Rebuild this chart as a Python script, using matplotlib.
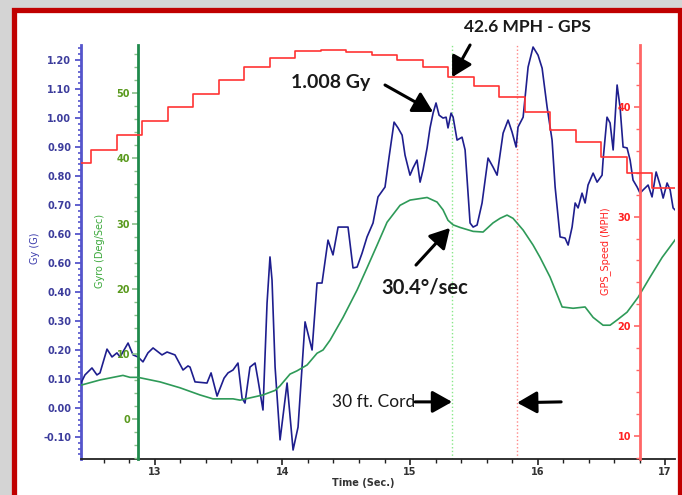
import matplotlib
matplotlib.use('Agg')
import matplotlib.pyplot as plt
from matplotlib.patches import Rectangle
from matplotlib.ticker import MultipleLocator, FixedLocator, FixedFormatter

# Gy (G) - lateral acceleration
gy_time = [12.420, 12.451, 12.506, 12.545, 12.569, 12.624, 12.663, 12.702, 12.726, 12.789,
           12.828, 12.867, 12.906, 12.945, 12.985, 13.055, 13.095, 13.157, 13.220, 13.259,
           13.275, 13.314, 13.408, 13.440, 13.487, 13.542, 13.573, 13.612, 13.651, 13.683,
           13.706, 13.745, 13.785, 13.808, 13.847, 13.879, 13.902, 13.918, 13.942, 13.981,
           14.036, 14.083, 14.122, 14.177, 14.232, 14.271, 14.310, 14.357, 14.396, 14.436,
           14.514, 14.553, 14.585, 14.624, 14.663, 14.710, 14.749, 14.804, 14.836, 14.875,
           14.906, 14.938, 14.961, 15.000, 15.024, 15.055, 15.079, 15.102, 15.134, 15.157,
           15.181, 15.204, 15.228, 15.259, 15.283, 15.298, 15.322, 15.338, 15.369, 15.408,
           15.432, 15.471, 15.495, 15.526, 15.565, 15.612, 15.651, 15.683, 15.730, 15.769,
           15.800, 15.832, 15.847, 15.887, 15.926, 15.965, 16.004, 16.036, 16.075, 16.114,
           16.138, 16.177, 16.216, 16.240, 16.271, 16.295, 16.318, 16.349, 16.373, 16.396,
           16.436, 16.467, 16.506, 16.514, 16.545, 16.569, 16.593, 16.624, 16.647, 16.671,
           16.702, 16.726, 16.749, 16.781, 16.804, 16.828, 16.867, 16.898, 16.930, 16.961,
           16.985, 17.016, 17.040, 17.063, 17.079]
gy_val = [0.086, 0.114, 0.138, 0.114, 0.121, 0.203, 0.176, 0.190, 0.176, 0.224,
          0.183, 0.176, 0.159, 0.190, 0.207, 0.183, 0.193, 0.183, 0.131, 0.145,
          0.141, 0.090, 0.086, 0.121, 0.041, 0.103, 0.121, 0.131, 0.155, 0.034,
          0.017, 0.141, 0.155, 0.097, -0.007, 0.362, 0.521, 0.441, 0.141, -0.110,
          0.086, -0.145, -0.066, 0.297, 0.200, 0.431, 0.431, 0.579, 0.528, 0.624,
          0.624, 0.483, 0.486, 0.534, 0.590, 0.638, 0.728, 0.762, 0.866, 0.986,
          0.966, 0.941, 0.872, 0.803, 0.828, 0.855, 0.779, 0.821, 0.897, 0.966,
          1.017, 1.052, 1.010, 1.000, 1.003, 0.966, 1.017, 1.003, 0.924, 0.934,
          0.890, 0.638, 0.624, 0.631, 0.707, 0.862, 0.831, 0.803, 0.948, 0.993,
          0.952, 0.900, 0.969, 1.003, 1.176, 1.245, 1.217, 1.172, 1.038, 0.924,
          0.762, 0.590, 0.586, 0.562, 0.624, 0.707, 0.690, 0.741, 0.707, 0.769,
          0.810, 0.779, 0.803, 0.855, 1.003, 0.983, 0.890, 1.114, 1.038, 0.900,
          0.897, 0.855, 0.786, 0.762, 0.741, 0.752, 0.769, 0.728, 0.814, 0.769,
          0.724, 0.776, 0.752, 0.690, 0.683]

# Gyro (Deg/Sec) - yaw rate
gyro_time = [12.420, 12.569, 12.749, 12.804, 12.867, 13.040, 13.196, 13.353, 13.455, 13.487,
             13.612, 13.667, 13.847, 13.942, 13.981, 14.059, 14.114, 14.193, 14.271, 14.318,
             14.373, 14.475, 14.585, 14.663, 14.742, 14.820, 14.922, 15.000, 15.134, 15.212,
             15.259, 15.298, 15.338, 15.393, 15.495, 15.573, 15.651, 15.706, 15.761, 15.808,
             15.887, 15.965, 16.020, 16.098, 16.193, 16.279, 16.373, 16.436, 16.514, 16.569,
             16.624, 16.702, 16.789, 16.883, 16.977, 17.079]
gyro_val = [5.2, 6.0, 6.7, 6.4, 6.4, 5.7, 4.8, 3.7, 3.1, 3.1,
            3.1, 2.9, 3.7, 4.4, 5.1, 6.9, 7.4, 8.3, 10.1, 10.6,
            12.1, 15.6, 19.8, 23.2, 26.7, 30.2, 32.8, 33.6, 34.0, 33.3,
            32.1, 30.5, 29.8, 29.4, 28.8, 28.7, 30.1, 30.8, 31.3, 30.8,
            29.0, 26.7, 24.8, 21.8, 17.2, 17.0, 17.2, 15.6, 14.4, 14.4,
            15.2, 16.4, 18.7, 21.8, 24.8, 27.5]

# GPS_Speed (MPH), 5 Hz steps
gps_time = [12.3, 12.5, 12.7, 12.9, 13.1, 13.3, 13.5, 13.7, 13.9, 14.1, 14.3, 14.5,
            14.7, 14.9, 15.1, 15.3, 15.5, 15.7, 15.9, 16.1, 16.3, 16.5, 16.7, 16.9, 17.1]
gps_val = [34.9, 36.1, 37.4, 38.7, 40.0, 41.2, 42.5, 43.6, 44.5, 45.1, 45.2, 45.0,
           44.7, 44.3, 43.6, 42.7, 41.9, 40.9, 39.5, 37.9, 36.8, 35.4, 34.0, 32.6, 32.6]

gy_ticks = [-0.1, 0.0, 0.1, 0.2, 0.3, 0.4, 0.5, 0.6, 0.7, 0.8, 0.9, 1.0, 1.1, 1.2]
gy_labels = ['-0.10', '0.00', '0.10', '0.20', '0.30', '0.40', '0.60', '0.60', '0.70',
             '0.80', '0.90', '1.00', '1.10', '1.20']
gyro_ticks = [0, 10, 20, 30, 40, 50]
gps_ticks = [10, 20, 30, 40]
time_ticks = [13, 14, 15, 16, 17]

gyro_axis_t = 12.87   # where the Gyro scale stands
gps_axis_t = 16.80    # where the GPS scale stands
cursor_a = 15.33
cursor_b = 15.84

xlim = (12.42, 17.078)
W, H = 682, 495

fig = plt.figure(figsize=(W / 100, H / 100), dpi=100)
fig.patch.set_facecolor('#d4d4d4')
frame = Rectangle((14.5 / W, -10 / H), 665 / W, (H - 9.5 + 10) / H,
                  transform=fig.transFigure, facecolor='white', edgecolor='#c00000',
                  lw=3.8, zorder=0)
fig.add_artist(frame)

pos = [81 / W, 1 - 459 / H, 594 / W, 414 / H]
ax = fig.add_axes(pos)
ax.set_facecolor('none')
ax2 = ax.twinx()
ax3 = ax.twinx()

blue_sp = '#5555cc'
blue_tx = '#3c3c9c'
green_sp = '#1f8a4c'
green_tx = '#5a9a1e'
red_sp = '#ff6666'
red_tx = '#ff2222'

# Gy axis
ax.plot(gy_time, gy_val, color='#1e1e8e', lw=1.2, zorder=3)
ax.set_xlim(*xlim)
ax.set_ylim(-0.176, 1.252)
for s in ['top', 'right']:
    ax.spines[s].set_visible(False)
ax.spines['left'].set_color(blue_sp)
ax.spines['left'].set_linewidth(2)
ax.spines['bottom'].set_color('#222222')
ax.spines['bottom'].set_linewidth(1.3)
ax.yaxis.set_major_locator(FixedLocator(gy_ticks))
ax.yaxis.set_major_formatter(FixedFormatter(gy_labels))
ax.yaxis.set_minor_locator(MultipleLocator(0.02))
ax.tick_params(axis='y', which='major', colors=blue_sp, labelcolor=blue_tx, length=4,
               width=1.3, pad=3, labelsize=7)
ax.tick_params(axis='y', which='minor', colors=blue_sp, length=2.5, width=1.2)
ax.set_xticks(time_ticks)
ax.xaxis.set_minor_locator(MultipleLocator(0.2))
ax.tick_params(axis='x', which='major', colors='#222222', labelcolor='#333333', length=4,
               width=1.2, pad=2, labelsize=7)
ax.tick_params(axis='x', which='minor', colors='#222222', length=3, width=1.0)
for lab in ax.get_xticklabels() + ax.get_yticklabels():
    lab.set_fontweight('bold')

ax.axvline(cursor_a, color='#88e888', lw=1, ls=':', zorder=1)
ax.axvline(cursor_b, color='#ff8888', lw=1, ls=':', zorder=1)


def side_scale(a, t, sp_col, tx_col, lim, ticks, minor):
    for s in ['top', 'right', 'bottom']:
        a.spines[s].set_visible(False)
    a.spines['left'].set_visible(True)
    a.spines['left'].set_position(('axes', (t - xlim[0]) / (xlim[1] - xlim[0])))
    a.spines['left'].set_color(sp_col)
    a.spines['left'].set_linewidth(2)
    a.yaxis.set_ticks_position('left')
    a.yaxis.set_label_position('left')
    a.set_ylim(*lim)
    a.set_yticks(ticks)
    a.yaxis.set_minor_locator(MultipleLocator(minor))
    a.tick_params(axis='y', which='major', colors=sp_col, labelcolor=tx_col, length=4,
                  width=1.2, pad=2, labelsize=7)
    a.tick_params(axis='y', which='minor', colors=sp_col, length=3, width=1.0)
    for lab in a.get_yticklabels():
        lab.set_fontweight('bold')


side_scale(ax2, gyro_axis_t, green_sp, green_tx, (-6.13, 57.4), gyro_ticks, 2)
ax2.tick_params(axis='y', which='both', colors='#8abf8a', labelcolor=green_tx)
ax2.plot(gyro_time, gyro_val, color='#2e9a58', lw=1.2, zorder=3)

side_scale(ax3, gps_axis_t, red_sp, red_tx, (7.9, 45.65), gps_ticks, 2)
ax3.step(gps_time, gps_val, where='post', color='#ff3333', lw=1.2, zorder=3)

# axis titles
fig.text(35 / W, 1 - 248 / H, 'Gy (G)', rotation=90, ha='center', va='center',
         color='#3c3cac', fontsize=7)
fig.text(100 / W, 1 - 251 / H, 'Gyro (Deg/Sec)', rotation=90, ha='center', va='center',
         color='#3aa83a', fontsize=7)
fig.text(606 / W, 1 - 251 / H, 'GPS_Speed (MPH)', rotation=90, ha='center', va='center',
         color='#ff2222', fontsize=7)
fig.text(363 / W, 1 - 483 / H, 'Time (Sec.)', ha='center', va='center',
         color='#333333', fontsize=7, fontweight='bold')

# annotations
arr = dict(arrowstyle='-|>,head_length=0.75,head_width=0.42', lw=2.2, color='black',
           shrinkA=0, shrinkB=0, mutation_scale=16)
ann_font = dict(family=['Lato', 'DejaVu Sans'], color='#1a1a1a')

ax.text(15.918, 1.314, '42.6 MPH - GPS', ha='center', va='center', fontsize=12.5,
        fontweight='bold', clip_on=False, **ann_font)
ax.annotate('', xy=(15.330, 1.141), xytext=(15.471, 1.252), arrowprops=arr,
            annotation_clip=False)

ax.text(14.381, 1.121, '1.008 Gy', ha='center', va='center', fontsize=14,
        fontweight='bold', **ann_font)
ax.annotate('', xy=(15.181, 1.021), xytext=(14.804, 1.114), arrowprops=arr)

ax.text(15.118, 0.414, '30.4°/sec', ha='center', va='center', fontsize=14.5,
        fontweight='bold', **ann_font)
ax.annotate('', xy=(15.314, 0.621), xytext=(15.047, 0.493), arrowprops=arr)

ax.text(14.718, 0.021, '30 ft. Cord', ha='center', va='center', fontsize=12.5,
        **ann_font)
ax.annotate('', xy=(15.330, 0.021), xytext=(15.040, 0.021), arrowprops=arr)
ax.annotate('', xy=(15.840, 0.018), xytext=(16.185, 0.021), arrowprops=arr)

fig.savefig('out.png', dpi=100, facecolor=fig.get_facecolor())
